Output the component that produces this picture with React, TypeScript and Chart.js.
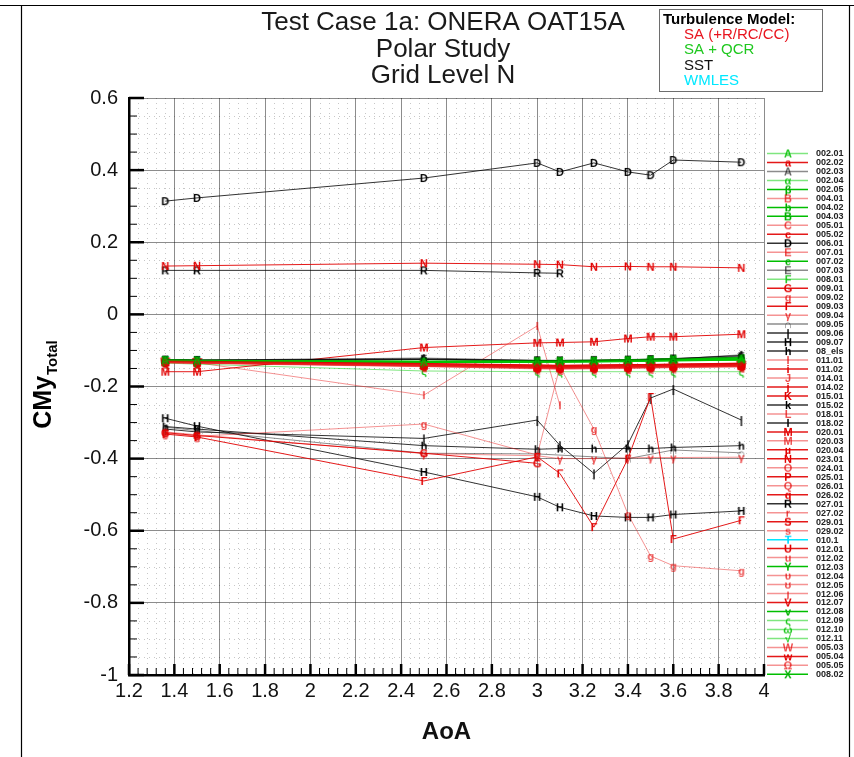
import React, { useEffect, useRef } from "react";
import { Chart, registerables } from "chart.js";

Chart.register(...registerables);

const FONT = '"Liberation Sans", Arial, Helvetica, sans-serif';

const TITLE_LINES = ["Test Case 1a: ONERA OAT15A", "Polar Study", "Grid Level N"];
const X_LABEL = "AoA";
const Y_LABEL_MAIN = "CMy";
const Y_LABEL_SUB = "Total";
const LEGEND_TITLE = "Turbulence Model:";
const MODEL_NAMES = ["SA (+R/RC/CC)", "SA + QCR", "SST", "WMLES"];
const MODEL_KEYS = ["SA", "QCR", "SST", "WMLES"];

const AOA = [1.36, 1.5, 2.5, 3.0, 3.1, 3.25, 3.4, 3.5, 3.6, 3.9];

const SERIES_LABELS = [
  "002.01", "002.02", "002.03", "002.04", "002.05", "004.01", "004.02", "004.03",
  "005.01", "005.02", "006.01", "007.01", "007.02", "007.03", "008.01", "009.01",
  "009.02", "009.03", "009.04", "009.05", "009.06", "009.07", "08_els", "011.01",
  "011.02", "014.01", "014.02", "015.01", "015.02", "018.01", "018.02", "020.01",
  "020.03", "020.04", "023.01", "024.01", "025.01", "026.01", "026.02", "027.01",
  "027.02", "029.01", "029.02", "010.1", "012.01", "012.02", "012.03", "012.04",
  "012.05", "012.06", "012.07", "012.08", "012.09", "012.10", "012.11", "005.03",
  "005.04", "005.05", "008.02",
];

const SERIES_SYMBOLS = [
  "A", "a", "A", "α", "β", "B", "b", "B",
  "C", "c", "D", "E", "e", "E", "F", "G",
  "g", "Γ", "γ", "∩", "|", "H", "h", "I",
  "i", "J", "j", "K", "k", "L", "l", "M",
  "M", "µ", "N", "O", "P", "Q", "q", "R",
  "r", "S", "s", "T", "U", "u", "Y", "υ",
  "ʊ", "ȷ", "V", "v", "ς", "ω", "√", "W",
  "w", "Ω", "X",
];

const SERIES_MODELS = [
  "QCR_L", "SA", "SST_L", "QCR_L", "QCR", "SA_L", "QCR", "QCR",
  "SA_L", "SA", "SST", "SA_L", "QCR", "SST_L", "QCR_L", "SA",
  "SA_L", "SA", "SA_L", "SST_L", "SST", "SST", "SST", "SA_L",
  "SA", "SA_L", "SA", "SA", "SST", "SA_L", "SST", "SA",
  "SA_L", "SA", "SA", "SA_L", "SA", "SA_L", "SA", "SST",
  "SA_L", "SA", "SA_L", "WMLES", "SA", "SA_L", "QCR", "SA_L",
  "SA_L", "SA_L", "SA", "QCR", "QCR_L", "QCR_L", "QCR_L", "SA_L",
  "SA", "SA_L", "QCR",
];

const N = null;
const SERIES_VALUES: (number | null)[][] = [
  [-0.127, -0.128, -0.131, -0.130, -0.130, -0.129, -0.128, -0.127, -0.126, -0.124],
  [-0.129, -0.130, -0.136, -0.140, -0.141, -0.140, -0.139, -0.139, -0.138, -0.136],
  [-0.126, -0.127, -0.121, -0.128, -0.129, -0.128, -0.127, -0.125, -0.124, -0.112],
  [-0.128, -0.129, -0.133, -0.132, -0.132, -0.131, -0.130, -0.129, -0.128, -0.126],
  [-0.127, -0.129, -0.132, -0.131, -0.131, -0.130, -0.128, -0.127, -0.126, -0.125],
  [-0.130, -0.131, -0.138, -0.142, -0.143, -0.142, -0.141, -0.140, -0.139, -0.137],
  [-0.126, -0.127, -0.130, -0.129, -0.129, -0.128, -0.127, -0.125, -0.124, -0.121],
  [-0.128, -0.130, -0.134, -0.133, -0.133, -0.132, -0.131, -0.130, -0.129, -0.127],
  [-0.131, -0.132, -0.140, -0.145, -0.146, -0.145, -0.144, -0.143, -0.142, -0.140],
  [-0.130, -0.131, -0.139, -0.144, -0.145, -0.144, -0.143, -0.142, -0.141, -0.139],
  [0.314, 0.323, 0.378, 0.420, 0.395, 0.420, 0.395, 0.386, 0.428, 0.422],
  [-0.132, -0.133, -0.141, -0.147, -0.148, -0.147, -0.146, -0.145, -0.144, -0.142],
  [-0.126, -0.128, -0.131, -0.129, -0.129, -0.128, -0.126, -0.125, -0.123, -0.120],
  [-0.125, -0.126, -0.123, -0.127, -0.127, -0.126, -0.125, -0.124, -0.122, -0.116],
  [-0.127, -0.128, -0.132, -0.130, -0.130, -0.129, -0.127, -0.126, -0.125, -0.122],
  [-0.328, -0.336, -0.385, -0.413, N, N, N, N, N, N],
  [-0.330, -0.338, -0.304, -0.390, -0.145, -0.318, -0.554, -0.670, -0.697, -0.711],
  [-0.332, -0.340, -0.462, -0.395, -0.441, -0.590, -0.400, -0.229, -0.623, -0.571],
  [-0.326, -0.334, -0.386, -0.392, -0.400, -0.400, -0.398, -0.397, -0.397, -0.396],
  [-0.313, -0.322, -0.385, -0.387, N, N, -0.400, N, -0.376, -0.384],
  [-0.318, -0.326, -0.344, -0.293, -0.363, -0.441, -0.360, -0.232, -0.207, -0.293],
  [-0.288, -0.310, -0.437, -0.506, -0.535, -0.559, -0.563, -0.563, -0.555, -0.545],
  [-0.311, -0.318, -0.364, -0.374, -0.372, -0.372, -0.372, -0.372, -0.369, -0.364],
  [-0.133, -0.134, -0.224, -0.032, -0.252, N, N, N, N, N],
  [-0.131, -0.132, -0.140, -0.146, -0.147, -0.146, -0.145, -0.144, -0.143, -0.141],
  [-0.133, -0.134, -0.142, -0.148, -0.149, -0.148, -0.147, -0.146, -0.145, -0.143],
  [-0.130, -0.131, -0.137, -0.141, -0.142, -0.141, -0.140, -0.139, -0.138, -0.135],
  [-0.131, -0.132, -0.139, -0.143, -0.144, -0.143, -0.142, -0.141, -0.140, -0.138],
  [-0.127, -0.128, -0.125, -0.129, -0.130, -0.129, -0.128, -0.126, -0.125, -0.118],
  [-0.132, -0.133, -0.141, -0.146, -0.147, -0.146, -0.145, -0.144, -0.143, -0.141],
  [-0.126, -0.127, -0.124, -0.128, -0.129, -0.128, -0.126, -0.125, -0.123, -0.114],
  [-0.159, -0.159, -0.092, -0.079, -0.078, -0.076, -0.067, -0.062, -0.062, -0.055],
  [-0.134, -0.135, -0.143, -0.149, -0.150, -0.149, -0.148, -0.147, -0.146, -0.144],
  [-0.130, -0.131, -0.138, -0.143, -0.144, -0.143, -0.142, -0.141, -0.140, -0.137],
  [0.134, 0.135, 0.142, 0.139, 0.138, 0.132, 0.133, 0.132, 0.132, 0.129],
  [-0.133, -0.134, -0.142, -0.147, -0.148, -0.148, -0.147, -0.146, -0.145, -0.143],
  [-0.131, -0.132, -0.140, -0.145, -0.146, -0.145, -0.144, -0.143, -0.142, -0.140],
  [-0.134, -0.135, -0.144, -0.150, -0.151, -0.150, -0.149, -0.148, -0.147, -0.145],
  [-0.132, -0.133, -0.141, -0.146, -0.147, -0.146, -0.145, -0.144, -0.143, -0.142],
  [0.122, 0.122, 0.122, 0.115, 0.114, N, N, N, N, N],
  [-0.133, -0.134, -0.143, -0.148, -0.149, -0.148, -0.147, -0.146, -0.145, -0.144],
  [-0.132, -0.133, -0.142, -0.147, -0.148, -0.147, -0.146, -0.145, -0.144, -0.143],
  [-0.134, -0.136, -0.145, -0.151, -0.152, -0.151, -0.150, -0.149, -0.148, -0.146],
  [-0.127, -0.128, N, N, N, N, N, N, N, N],
  [-0.131, -0.132, -0.139, -0.144, -0.145, -0.144, -0.143, -0.142, -0.141, -0.139],
  [-0.132, -0.133, -0.140, -0.145, -0.146, -0.146, -0.145, -0.144, -0.143, -0.141],
  [-0.127, -0.128, -0.133, -0.131, -0.131, -0.130, -0.129, -0.128, -0.127, -0.125],
  [-0.133, -0.134, -0.142, -0.147, -0.148, -0.147, -0.146, -0.145, -0.144, -0.142],
  [-0.134, -0.135, -0.143, -0.148, -0.149, -0.148, -0.147, -0.146, -0.145, -0.143],
  [-0.133, -0.135, -0.144, -0.149, -0.150, -0.149, -0.148, -0.147, -0.146, -0.144],
  [-0.130, -0.132, -0.139, -0.144, -0.145, -0.144, -0.143, -0.142, -0.141, -0.138],
  [-0.127, -0.128, -0.131, -0.130, -0.130, -0.129, -0.128, -0.126, -0.125, -0.123],
  [-0.135, -0.138, -0.157, -0.159, -0.159, -0.159, -0.159, -0.159, -0.159, -0.159],
  [-0.128, -0.129, -0.133, -0.132, -0.132, -0.131, -0.130, -0.129, -0.128, -0.126],
  [-0.128, -0.129, -0.134, -0.133, -0.133, -0.132, -0.131, -0.130, -0.129, -0.127],
  [-0.131, -0.132, -0.139, -0.145, -0.146, -0.145, -0.144, -0.143, -0.142, -0.140],
  [-0.131, -0.133, -0.140, -0.146, -0.147, -0.146, -0.145, -0.144, -0.143, -0.141],
  [-0.132, -0.133, -0.141, -0.146, -0.147, -0.146, -0.145, -0.144, -0.143, -0.142],
  [-0.126, -0.127, -0.130, -0.128, -0.128, -0.127, -0.126, -0.124, -0.123, -0.121],
];

const STYLES: Record<string, { line: string; sym: string }> = {
  SA: { line: "rgba(225,0,0,0.9)", sym: "rgb(225,0,0)" },
  SA_L: { line: "rgba(235,40,40,0.5)", sym: "rgba(228,0,0,0.7)" },
  QCR: { line: "rgb(0,190,0)", sym: "rgb(0,175,0)" },
  QCR_L: { line: "rgba(0,205,0,0.5)", sym: "rgba(0,190,0,0.85)" },
  SST: { line: "rgba(0,0,0,0.8)", sym: "#000" },
  SST_L: { line: "rgba(0,0,0,0.45)", sym: "rgba(0,0,0,0.6)" },
  WMLES: { line: "rgb(0,230,255)", sym: "rgb(0,215,255)" },
};

const MODEL_TEXT_COLORS: Record<string, string> = {
  SA: "rgb(232,20,30)",
  QCR: "rgb(30,200,30)",
  SST: "#111",
  WMLES: "rgb(0,232,255)",
};

function makeSymbol(ch: string, color: string): HTMLCanvasElement {
  const c = document.createElement("canvas");
  c.width = 16;
  c.height = 16;
  const g = c.getContext("2d")!;
  g.font = `bold 11px ${FONT}`;
  g.fillStyle = color;
  g.textAlign = "center";
  g.textBaseline = "middle";
  g.fillText(ch, 8, 8.5);
  return c;
}

const fmt = (v: number | string) => {
  const r = Math.round(Number(v) * 100) / 100;
  return String(r === 0 ? 0 : r);
};

const minorGrid = {
  id: "minorGrid",
  beforeDatasetsDraw(chart: any) {
    const { ctx, chartArea, scales } = chart;
    const { left, right, top, bottom } = chartArea;
    ctx.save();
    ctx.strokeStyle = "rgba(0,0,0,0.22)";
    ctx.lineWidth = 1;
    ctx.setLineDash([1, 4]);
    for (let i = 1; i < 70; i++) {
      if (i % 5 === 0) continue;
      const px = Math.round(scales.x.getPixelForValue(1.2 + i * 0.04)) + 0.5;
      ctx.beginPath();
      ctx.moveTo(px, top);
      ctx.lineTo(px, bottom);
      ctx.stroke();
    }
    for (let i = 1; i < 32; i++) {
      if (i % 4 === 0) continue;
      const py = Math.round(scales.y.getPixelForValue(-1 + i * 0.05)) + 0.5;
      ctx.beginPath();
      ctx.moveTo(left, py);
      ctx.lineTo(right, py);
      ctx.stroke();
    }
    ctx.restore();
  },
};

const axisTicks = {
  id: "axisTicks",
  afterDatasetsDraw(chart: any) {
    const { ctx, chartArea, scales } = chart;
    const { left, bottom } = chartArea;
    ctx.save();
    ctx.strokeStyle = "#000";
    for (let i = 0; i <= 32; i++) {
      const py = scales.y.getPixelForValue(-1 + i * 0.05);
      const major = i % 4 === 0;
      ctx.lineWidth = major ? 2.5 : 1;
      ctx.beginPath();
      ctx.moveTo(left, py);
      ctx.lineTo(left + (major ? 15 : 8), py);
      ctx.stroke();
    }
    for (let i = 0; i <= 70; i++) {
      const px = scales.x.getPixelForValue(1.2 + i * 0.04);
      const major = i % 5 === 0;
      ctx.lineWidth = major ? 2.5 : 1;
      ctx.beginPath();
      ctx.moveTo(px, bottom);
      ctx.lineTo(px, bottom - (major ? 11 : 7));
      ctx.stroke();
    }
    ctx.restore();
  },
};

const decorations = {
  id: "decorations",
  afterDraw(chart: any) {
    const { ctx } = chart;
    ctx.save();
    // page frame
    ctx.strokeStyle = "#000";
    ctx.lineWidth = 1.2;
    ctx.beginPath();
    ctx.moveTo(0, 5.5);
    ctx.lineTo(854, 5.5);
    ctx.moveTo(21.5, 5);
    ctx.lineTo(21.5, 757);
    ctx.moveTo(849.5, 5);
    ctx.lineTo(849.5, 757);
    ctx.stroke();

    // title
    ctx.fillStyle = "#1a1a1a";
    ctx.font = `26px ${FONT}`;
    ctx.textAlign = "center";
    ctx.textBaseline = "middle";
    TITLE_LINES.forEach((t, i) => ctx.fillText(t, 443, 23 + i * 26.5));

    // y axis label with subscript
    ctx.save();
    ctx.translate(0, 385);
    ctx.rotate(-Math.PI / 2);
    ctx.font = `bold 25px ${FONT}`;
    const wMain = ctx.measureText(Y_LABEL_MAIN).width;
    ctx.font = `bold 15px ${FONT}`;
    const wSub = ctx.measureText(Y_LABEL_SUB).width;
    const start = -(wMain + wSub) / 2;
    ctx.textAlign = "left";
    ctx.textBaseline = "alphabetic";
    ctx.fillStyle = "#000";
    ctx.font = `bold 25px ${FONT}`;
    ctx.fillText(Y_LABEL_MAIN, start, 51);
    ctx.font = `bold 15px ${FONT}`;
    ctx.fillText(Y_LABEL_SUB, start + wMain + 1, 57);
    ctx.restore();

    // model legend box
    ctx.fillStyle = "#fff";
    ctx.fillRect(659.5, 9.5, 163, 82);
    ctx.strokeStyle = "rgb(110,110,110)";
    ctx.lineWidth = 1;
    ctx.strokeRect(659.5, 9.5, 163, 82);
    ctx.textAlign = "left";
    ctx.textBaseline = "middle";
    ctx.fillStyle = "#000";
    ctx.font = `bold 15px ${FONT}`;
    ctx.fillText(LEGEND_TITLE, 663, 20);
    ctx.font = `15px ${FONT}`;
    MODEL_NAMES.forEach((name, i) => {
      ctx.fillStyle = MODEL_TEXT_COLORS[MODEL_KEYS[i]];
      ctx.fillText(name, 684, 35 + i * 15.2);
    });

    // series legend list
    const datasets = chart.data.datasets;
    datasets.forEach((ds: any, i: number) => {
      const y = 153.5 + i * 8.98;
      ctx.strokeStyle = ds.borderColor;
      ctx.lineWidth = 1.5;
      ctx.beginPath();
      ctx.moveTo(767, y);
      ctx.lineTo(808, y);
      ctx.stroke();
      const s = ds.pointStyle as HTMLCanvasElement;
      ctx.drawImage(s, 788 - s.width / 2, y - s.height / 2);
      ctx.fillStyle = "#222";
      ctx.font = `bold 9px ${FONT}`;
      ctx.textAlign = "left";
      ctx.textBaseline = "middle";
      ctx.fillText(ds.label, 816, y + 0.5);
    });
    ctx.restore();
  },
};

export default function App() {
  const ref = useRef<HTMLCanvasElement | null>(null);

  useEffect(() => {
    if (!ref.current) return;
    const datasets = SERIES_LABELS.map((label, i) => {
      const st = STYLES[SERIES_MODELS[i]];
      const data = AOA.map((x, j) => ({ x, y: SERIES_VALUES[i][j] })).filter(
        (p) => p.y !== null
      );
      return {
        label,
        data,
        borderColor: st.line,
        backgroundColor: st.line,
        borderWidth: 1,
        pointStyle: makeSymbol(SERIES_SYMBOLS[i], st.sym),
        pointRadius: 4,
        tension: 0,
        spanGaps: true,
      };
    });

    const chart = new Chart(ref.current, {
      type: "line",
      data: { datasets },
      options: {
        responsive: false,
        animation: false,
        events: [],
        layout: { padding: { top: 98, right: 90, left: 0, bottom: 0 } },
        plugins: {
          legend: { display: false },
          title: { display: false },
          tooltip: { enabled: false },
        },
        scales: {
          x: {
            type: "linear",
            min: 1.2,
            max: 4,
            afterFit: (s: any) => {
              s.height = 82;
            },
            ticks: {
              stepSize: 0.2,
              callback: fmt,
              font: { family: FONT, size: 20 },
              color: "#111",
              padding: 4,
              maxRotation: 0,
              autoSkip: false,
            },
            grid: { color: "rgba(0,0,0,0.45)", lineWidth: 1, drawTicks: false },
            border: { display: true, color: "#000", width: 2.5 },
            title: {
              display: true,
              text: X_LABEL,
              color: "#111",
              font: { family: FONT, size: 24, weight: "bold" },
              padding: { top: 0, bottom: 10 },
            },
          },
          y: {
            type: "linear",
            min: -1,
            max: 0.6,
            afterFit: (s: any) => {
              s.width = 129;
            },
            ticks: {
              stepSize: 0.2,
              callback: fmt,
              font: { family: FONT, size: 20 },
              color: "#111",
              padding: 11,
            },
            grid: { color: "rgba(0,0,0,0.45)", lineWidth: 1, drawTicks: false },
            border: { display: true, color: "#000", width: 2.5 },
          },
        },
      },
      plugins: [minorGrid, axisTicks, decorations],
    } as any);

    return () => chart.destroy();
  }, []);

  return (
    <canvas
      ref={ref}
      width={854}
      height={757}
      style={{ position: "fixed", left: 0, top: 0, display: "block" }}
    />
  );
}
